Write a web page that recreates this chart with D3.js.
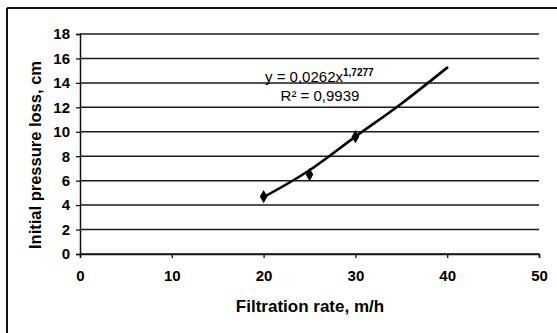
<!DOCTYPE html>
<html>
<head>
<meta charset="utf-8">
<script src="https://cdn.jsdelivr.net/npm/d3@7"></script>
<style>
  body { margin: 0; background: #fff; }
  svg { display: block; font-family: Arial, "Liberation Sans", sans-serif; }
  .tick text { font-weight: bold; font-size: 15px; fill: #000; }
</style>
</head>
<body>
<script>
// measured points
var rates = [20, 25, 30];
var losses = [4.7, 6.5, 9.6];

// power trend line
var trendX = [20, 25, 30, 35, 40];
var trendY = [4.65, 6.85, 9.6, 12.3, 15.25];

var xTicks = [0, 10, 20, 30, 40, 50];
var yTicks = [0, 2, 4, 6, 8, 10, 12, 14, 16, 18];

var width = 557, height = 333;
var plotLeft = 80, plotRight = 539, plotTop = 34, plotBottom = 254;

var svg = d3.select("body").append("svg")
  .attr("width", width)
  .attr("height", height);

// outer frame (only top and left visible)
svg.append("line").attr("x1", 7).attr("y1", 8).attr("x2", width).attr("y2", 8)
  .attr("stroke", "#111").attr("stroke-width", 2);
svg.append("line").attr("x1", 7).attr("y1", 8).attr("x2", 7).attr("y2", height)
  .attr("stroke", "#111").attr("stroke-width", 2);

var x = d3.scaleLinear().domain([0, 50]).range([plotLeft, plotRight]);
var y = d3.scaleLinear().domain([0, 18]).range([plotBottom, plotTop]);

// grid
svg.append("g").selectAll("line")
  .data(yTicks)
  .enter().append("line")
  .attr("x1", plotLeft).attr("x2", plotRight)
  .attr("y1", function(d) { return y(d); })
  .attr("y2", function(d) { return y(d); })
  .attr("stroke", "#1a1a1a")
  .attr("stroke-width", 1.5);

// y axis
var yAxis = svg.append("g")
  .attr("transform", "translate(" + plotLeft + ",0)")
  .call(d3.axisLeft(y).tickValues(yTicks).tickSize(4).tickPadding(6));
yAxis.select(".domain").attr("stroke", "#111").attr("stroke-width", 1.5);
yAxis.selectAll(".tick line").attr("stroke", "#111").attr("stroke-width", 1.3);

// x axis
var xAxis = svg.append("g")
  .attr("transform", "translate(0," + plotBottom + ")")
  .call(d3.axisBottom(x).tickValues(xTicks).tickSize(4).tickPadding(12));
xAxis.select(".domain").attr("stroke", "#111").attr("stroke-width", 1.5);
xAxis.selectAll(".tick line").attr("stroke", "#111").attr("stroke-width", 1.3);

// trend line
var trend = d3.line()
  .x(function(d, i) { return x(trendX[i]); })
  .y(function(d) { return y(d); })
  .curve(d3.curveMonotoneX);

svg.append("path")
  .datum(trendY)
  .attr("d", trend)
  .attr("fill", "none")
  .attr("stroke", "#000")
  .attr("stroke-width", 2.6)
  .attr("stroke-linecap", "round");

// markers
svg.append("g").selectAll("path")
  .data(losses)
  .enter().append("path")
  .attr("d", d3.symbol().type(d3.symbolDiamond).size(50))
  .attr("transform", function(d, i) { return "translate(" + x(rates[i]) + "," + y(d) + ")"; })
  .attr("fill", "#000");

// equation
var eq = svg.append("text")
  .attr("x", 265).attr("y", 82)
  .style("font-size", "15px");
eq.append("tspan").text("y = 0,0262x");
eq.append("tspan").attr("dy", -6).style("font-size", "10px").style("font-weight", "bold").text("1,7277");

svg.append("text")
  .attr("x", 320).attr("y", 101)
  .attr("text-anchor", "middle")
  .style("font-size", "15px")
  .text("R\u00B2 = 0,9939");

// axis titles
svg.append("text")
  .attr("x", 310).attr("y", 312)
  .attr("text-anchor", "middle")
  .style("font-size", "17px").style("font-weight", "bold")
  .text("Filtration rate, m/h");

svg.append("text")
  .attr("transform", "translate(41," + 155 + ") rotate(-90)")
  .attr("text-anchor", "middle")
  .style("font-size", "16.5px").style("font-weight", "bold")
  .text("Initial pressure loss, cm");
</script>
</body>
</html>
